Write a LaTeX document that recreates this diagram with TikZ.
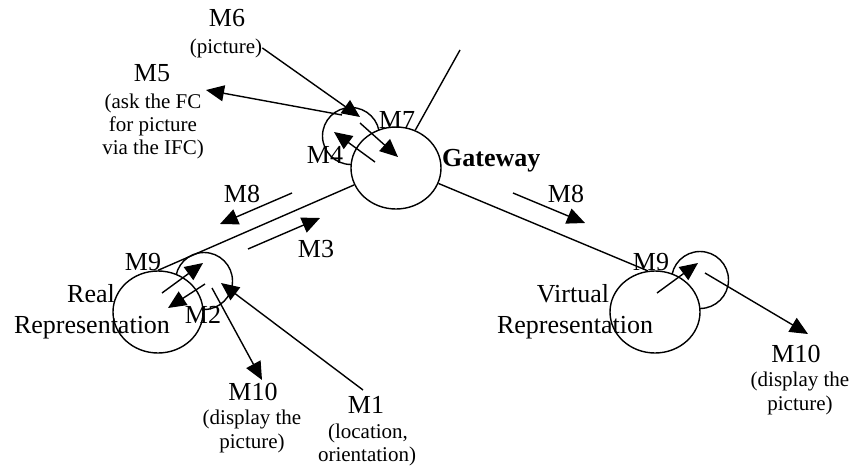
\documentclass[tikz,border=0pt]{standalone}
\usepackage{fontspec}
\setmainfont{Liberation Serif}
\usetikzlibrary{arrows.meta,shapes.geometric}
\tikzset{
  lbl/.style={font=\fontsize{26}{30}\selectfont, inner sep=0pt, anchor=base},
  sub/.style={font=\fontsize{21}{24}\selectfont, inner sep=0pt, anchor=base},
  ln/.style={line width=1.4pt},
  arr/.style={line width=1.4pt, -{Triangle[length=18pt,width=16pt]}},
  bigc/.style={ellipse, draw, line width=1.4pt, fill=white, minimum width=90pt, minimum height=82pt, inner sep=0pt},
  smallc/.style={circle, draw, line width=1.4pt, minimum size=57pt, inner sep=0pt}
}
\begin{document}
\begin{tikzpicture}[x=1pt,y=-1pt]
\useasboundingbox[fill=white] (0,0) rectangle (854,466);
% small circles first
\node[smallc] (gws) at (351,136) {};
\node[smallc] (rs) at (204,281) {};
\node[smallc] (vs) at (700,280) {};
% big circles on top
\node[bigc] (gw) at (396,168) {};
\node[bigc] (rb) at (158,312) {};
\node[bigc] (vb) at (655,312) {};
% links
\coordinate (topend) at (460,50);
\draw[ln] (gw.63) -- (topend);
\draw[ln] (gw.202) -- (rb.north);
\draw[ln] (gw.340) -- (vb.100);
% labels
\node[lbl] (m6) at (227,26) {M6};
\node[sub] (m6b) at (226,53) {(picture)};
\node[lbl] (m5) at (152,81) {M5};
\node[sub] (m5b) at (153,108) {(ask the FC};
\node[sub] (m5c) at (153,131) {for picture};
\node[sub] (m5d) at (153,154) {via the IFC)};
\node[lbl] (m7) at (397,128) {M7};
\node[lbl] (m4) at (325,163) {M4};
\node[lbl, anchor=base west] (gwl) at (442,166) {\bfseries Gateway};
\node[lbl] (m8l) at (242,202) {M8};
\node[lbl] (m3) at (316,257) {M3};
\node[lbl] (m9r) at (143,270) {M9};
\node[lbl] (real) at (91,302) {Real};
\node[lbl] (realb) at (92,333) {Representation};
\node[lbl] (m2) at (203,323) {M2};
\node[lbl] (m10r) at (253,400) {M10};
\node[sub] (m10rb) at (252,424) {(display the};
\node[sub] (m10rc) at (252,448) {picture)};
\node[lbl] (m1) at (366,413) {M1};
\node[sub] (m1b) at (368,438) {(location,};
\node[sub] (m1c) at (367,461) {orientation)};
\node[lbl] (m8v) at (566,202) {M8};
\node[lbl] (m9v) at (651,270) {M9};
\node[lbl] (virt) at (573,302) {Virtual};
\node[lbl] (virtb) at (575,333) {Representation};
\node[lbl] (m10v) at (796,362) {M10};
\node[sub] (m10vb) at (800,386) {(display the};
\node[sub] (m10vc) at (800,410) {picture)};
% arrow end points
\coordinate (a6) at (360,117);
\coordinate (s5) at (342,115); \coordinate (a5) at (206,90);
\coordinate (s7) at (360,123); \coordinate (a7) at (398,157);
\coordinate (s4) at (375,162); \coordinate (a4) at (334,132);
\coordinate (s8l) at (292,193); \coordinate (a8l) at (220,224);
\coordinate (s3) at (248,249); \coordinate (a3) at (320,218);
\coordinate (s9r) at (162,293); \coordinate (a9r) at (203,263);
\coordinate (s2) at (205,284); \coordinate (a2) at (168,308);
\coordinate (s10r) at (212,288); \coordinate (a10r) at (262,380);
\coordinate (s1) at (363,390); \coordinate (a1) at (221,283);
\coordinate (s8v) at (513,193); \coordinate (a8v) at (585,223);
\coordinate (s9v) at (657,293); \coordinate (a9v) at (698,263);
\coordinate (s10v) at (705,273); \coordinate (a10v) at (808,334);
% arrows
\draw[arr] (m6b.east) -- (a6);
\draw[arr] (s5) -- (a5);
\draw[arr] (s7) -- (a7);
\draw[arr] (s4) -- (a4);
\draw[arr] (s8l) -- (a8l);
\draw[arr] (s3) -- (a3);
\draw[arr] (s9r) -- (a9r);
\draw[arr] (s2) -- (a2);
\draw[arr] (s10r) -- (a10r);
\draw[arr] (s1) -- (a1);
\draw[arr] (s8v) -- (a8v);
\draw[arr] (s9v) -- (a9v);
\draw[arr] (s10v) -- (a10v);
\end{tikzpicture}
\end{document}
